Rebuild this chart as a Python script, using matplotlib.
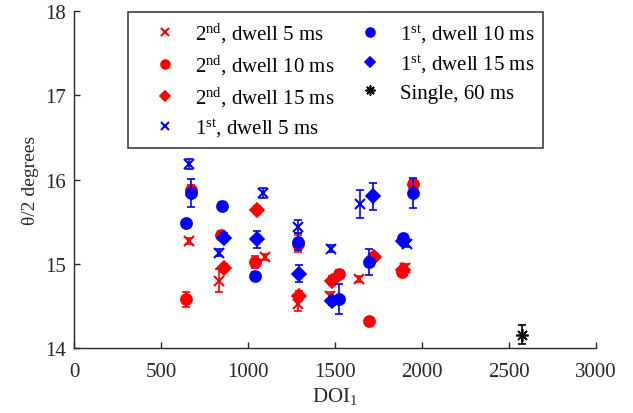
import matplotlib
matplotlib.use("Agg")
import matplotlib.pyplot as plt

plt.rcParams['font.family'] = ['Liberation Serif', 'DejaVu Serif']
plt.rcParams['mathtext.fontset'] = 'custom'
plt.rcParams['mathtext.rm'] = 'Liberation Serif'
plt.rcParams['mathtext.it'] = 'Liberation Serif:italic'

# second pass, dwell 5 ms
x2_5 = [663, 831, 1096, 1285, 1471, 1640, 1905]
y2_5 = [15.27, 14.80, 15.08, 14.52, 14.62, 14.82, 14.95]
e2_5 = [0.04, 0.14, 0.04, 0.08, 0.04, 0.04, 0.05]

# second pass, dwell 10 ms
x2_10 = [670, 642, 845, 1040, 1289, 1525, 1695, 1950, 1885]
y2_10 = [15.87, 14.58, 15.34, 15.02, 15.24, 14.88, 14.32, 15.95, 14.90]
e2_10 = [0.06, 0.09, 0.05, 0.07, 0.10, 0.05, 0.04, 0.06, 0.05]

# second pass, dwell 15 ms
x2_15 = [864, 1050, 1293, 1485, 1724, 1890]
y2_15 = [14.95, 15.64, 14.62, 14.80, 15.08, 14.92]
e2_15 = [0.05, 0.05, 0.06, 0.05, 0.05, 0.05]

# first pass, dwell 5 ms
x1_5 = [663, 831, 1088, 1289, 1477, 1644, 1911]
y1_5 = [16.18, 15.13, 15.84, 15.44, 15.18, 15.71, 15.24]
e1_5 = [0.06, 0.04, 0.06, 0.08, 0.04, 0.17, 0.04]

# first pass, dwell 10 ms
x1_10 = [670, 642, 852, 1040, 1289, 1525, 1695, 1950, 1890]
y1_10 = [15.84, 15.48, 15.69, 14.86, 15.26, 14.58, 15.02, 15.84, 15.30]
e1_10 = [0.17, 0.04, 0.04, 0.04, 0.10, 0.18, 0.15, 0.18, 0.04]

# first pass, dwell 15 ms
x1_15 = [864, 1054, 1293, 1485, 1720, 1893]
y1_15 = [15.31, 15.29, 14.88, 14.56, 15.80, 15.27]
e1_15 = [0.05, 0.10, 0.10, 0.05, 0.16, 0.05]

# single exposure, 60 ms
xs = [2577]
ys = [14.16]
es = [0.11]

series = [
    (x2_5, y2_5, e2_5, 'red', 'x', 7, '2$^{\\rm nd}$, dwell 5 ms'),
    (x2_10, y2_10, e2_10, 'red', 'o', 8, '2$^{\\rm nd}$, dwell 10 ms'),
    (x2_15, y2_15, e2_15, 'red', 'D', 7, '2$^{\\rm nd}$, dwell 15 ms'),
    (x1_5, y1_5, e1_5, 'blue', 'x', 7, '1$^{\\rm st}$, dwell 5 ms'),
    (x1_10, y1_10, e1_10, 'blue', 'o', 8, '1$^{\\rm st}$, dwell 10 ms'),
    (x1_15, y1_15, e1_15, 'blue', 'D', 7, '1$^{\\rm st}$, dwell 15 ms'),
    (xs, ys, es, 'black', (8, 2, 0), 9, 'Single, 60 ms'),
]

fig = plt.figure(figsize=(6.33, 4.14), dpi=100)
ax = fig.add_axes([0.117, 0.157, 0.8245, 0.814])

for x, y, e, c, m, ms, lab in series:
    ax.errorbar(x, y, yerr=e, fmt='none', ecolor=c, elinewidth=1.2, capsize=3, capthick=1.2)
    ax.plot(x, y, linestyle='none', marker=m, color=c, markersize=ms,
            markeredgewidth=1.5 if m == 'x' else 1.2, label=lab)

ax.set_xlim(0, 3000)
ax.set_ylim(14, 18)
ax.set_xticks([0, 500, 1000, 1500, 2000, 2500, 3000])
ax.set_yticks([14, 15, 16, 17, 18])
ax.spines['top'].set_visible(False)
ax.spines['right'].set_visible(False)
for s in ('left', 'bottom'):
    ax.spines[s].set_color('#262626')
    ax.spines[s].set_linewidth(1.0)
ax.tick_params(direction='in', length=4, width=1, colors='#262626', labelsize=15, labelcolor='#262626')
ax.tick_params(axis='x', pad=10)
ax.tick_params(axis='y', pad=6)

ax.set_xlabel('DOI$_1$', fontsize=15, color='#262626', labelpad=3)
ax.set_ylabel('\u03b8/2 degrees', fontsize=14, color='#262626', labelpad=4)

leg = ax.legend(loc='upper left', bbox_to_anchor=(0.103, 0.997), borderaxespad=0,
                ncol=2, fontsize=15, frameon=True, fancybox=False, framealpha=1,
                edgecolor='#404040', handlelength=2.7, handletextpad=0.1,
                columnspacing=0.35, labelspacing=0.38, borderpad=0.42, markerscale=0.8)
leg.get_frame().set_linewidth(1.2)

fig.savefig('out.png', dpi=100)
